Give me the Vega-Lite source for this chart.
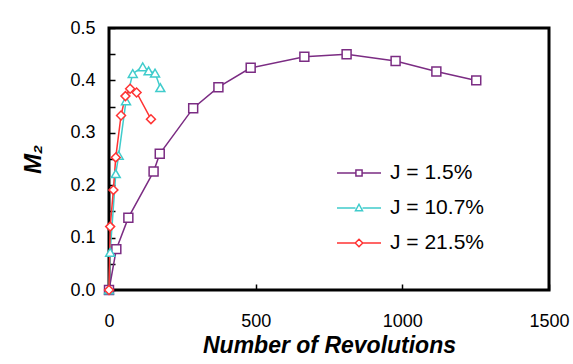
{
  "$schema": "https://vega.github.io/schema/vega-lite/v6.json",
  "autosize": "none",
  "width": 440,
  "height": 262,
  "padding": {"left": 109, "top": 28, "right": 24, "bottom": 74},
  "background": "white",
  "config": {
    "font": "Liberation Sans",
    "view": {"stroke": "black", "strokeWidth": 3},
    "axis": {"grid": false, "domain": false, "zindex": 1, "ticks": true, "labelColor": "black", "titleColor": "black", "tickColor": "black", "labelFont": "Liberation Sans", "titleFont": "Liberation Sans"}
  },
  "data": {"values": [
    {"J": "J = 1.5%", "rev": 0, "M2": 0.0},
    {"J": "J = 1.5%", "rev": 25, "M2": 0.078},
    {"J": "J = 1.5%", "rev": 66, "M2": 0.138},
    {"J": "J = 1.5%", "rev": 152, "M2": 0.226},
    {"J": "J = 1.5%", "rev": 173, "M2": 0.26},
    {"J": "J = 1.5%", "rev": 287, "M2": 0.347},
    {"J": "J = 1.5%", "rev": 373, "M2": 0.387},
    {"J": "J = 1.5%", "rev": 483, "M2": 0.424},
    {"J": "J = 1.5%", "rev": 666, "M2": 0.445},
    {"J": "J = 1.5%", "rev": 810, "M2": 0.45},
    {"J": "J = 1.5%", "rev": 977, "M2": 0.437},
    {"J": "J = 1.5%", "rev": 1116, "M2": 0.417},
    {"J": "J = 1.5%", "rev": 1252, "M2": 0.4},
    {"J": "J = 10.7%", "rev": 0, "M2": 0.0},
    {"J": "J = 10.7%", "rev": 4, "M2": 0.072},
    {"J": "J = 10.7%", "rev": 23, "M2": 0.222},
    {"J": "J = 10.7%", "rev": 33, "M2": 0.257},
    {"J": "J = 10.7%", "rev": 58, "M2": 0.361},
    {"J": "J = 10.7%", "rev": 81, "M2": 0.413},
    {"J": "J = 10.7%", "rev": 115, "M2": 0.426},
    {"J": "J = 10.7%", "rev": 135, "M2": 0.418},
    {"J": "J = 10.7%", "rev": 157, "M2": 0.414},
    {"J": "J = 10.7%", "rev": 175, "M2": 0.386},
    {"J": "J = 21.5%", "rev": 0, "M2": 0.0},
    {"J": "J = 21.5%", "rev": 4, "M2": 0.121},
    {"J": "J = 21.5%", "rev": 15, "M2": 0.191},
    {"J": "J = 21.5%", "rev": 23, "M2": 0.253},
    {"J": "J = 21.5%", "rev": 41, "M2": 0.333},
    {"J": "J = 21.5%", "rev": 56, "M2": 0.37},
    {"J": "J = 21.5%", "rev": 72, "M2": 0.384},
    {"J": "J = 21.5%", "rev": 94, "M2": 0.377},
    {"J": "J = 21.5%", "rev": 143, "M2": 0.326}
  ]},
  "encoding": {
    "x": {"field": "rev", "type": "quantitative",
      "scale": {"domain": [0, 1500], "nice": false, "zero": true},
      "axis": {"values": [0, 500, 1000, 1500], "format": "d", "tickSize": -6, "tickWidth": 1.5, "tickColor": "black", "tickOpacity": 1, "labelPadding": 28, "labelFontSize": 18, "title": "Number of Revolutions", "titleFontSize": 23, "titleFontWeight": "bold", "titleFontStyle": "italic", "titlePadding": 4, "labelFlush": false}},
    "y": {"field": "M2", "type": "quantitative",
      "scale": {"domain": [0, 0.5], "nice": false},
      "axis": {"values": [0, 0.05, 0.1, 0.15, 0.2, 0.25, 0.3, 0.35, 0.4, 0.45, 0.5], "labelExpr": "round(datum.value*20) % 2 == 0 ? format(datum.value, '.1f') : ''", "tickSize": -6, "tickWidth": 1.5, "tickColor": "black", "tickOpacity": 1, "labelPadding": 20, "labelFontSize": 18, "title": "M₂", "titleFontSize": 24, "titleFontWeight": "bold", "titleFontStyle": "italic", "titlePadding": 24}}
  },
  "layer": [
    {
      "mark": {"type": "line", "strokeWidth": 1.5, "clip": false},
      "encoding": {
        "color": {"field": "J", "type": "nominal", "legend": null,
          "scale": {"domain": ["J = 1.5%", "J = 10.7%", "J = 21.5%"], "range": ["#7B2C83", "#40CCCC", "#FF3333"]}},
        "order": {"field": "rev", "type": "quantitative"}
      }
    },
    {
      "mark": {"type": "point", "filled": false, "fill": "white", "fillOpacity": 1, "strokeWidth": 1.5, "size": 80, "opacity": 1, "clip": false},
      "encoding": {
        "stroke": {"field": "J", "type": "nominal", "legend": null,
          "scale": {"domain": ["J = 1.5%", "J = 10.7%", "J = 21.5%"], "range": ["#7B2C83", "#40CCCC", "#FF3333"]}},
        "shape": {"field": "J", "type": "nominal", "legend": null,
          "scale": {"domain": ["J = 1.5%", "J = 10.7%", "J = 21.5%"], "range": ["square", "triangle-up", "diamond"]}}
      }
    },
    {
      "mark": {"type": "point", "filled": false, "opacity": 0, "size": 1,
        "stroke": {"expr": "datum.value == 'J = 1.5%' ? '#7B2C83' : datum.value == 'J = 10.7%' ? '#40CCCC' : '#FF3333'"}},
      "encoding": {
        "shape": {"field": "J", "type": "nominal",
          "scale": {"domain": ["J = 1.5%", "J = 10.7%", "J = 21.5%"], "range": [
            "M-1,0H-0.14M0.14,0H1M-0.14,-0.14H0.14V0.14H-0.14Z",
            "M-1,0H-0.16M0.16,0H1M0,-0.17L0.16,0.12L-0.16,0.12Z",
            "M-1,0H-0.17M0.17,0H1M0,-0.17L0.17,0L0,0.17L-0.17,0Z"
          ]},
          "legend": {
            "title": null, "orient": "none", "legendX": 227, "legendY": 122,
            "symbolSize": 1936, "symbolStrokeWidth": 1.5, "symbolOpacity": 1, "symbolFillColor": "white",
            "labelFontSize": 21, "labelFont": "Liberation Sans", "labelColor": "black", "labelOffset": 8,
            "rowPadding": 2, "labelLimit": 300
          }
        }
      }
    }
  ],
  "resolve": {"scale": {"shape": "independent"}, "legend": {"shape": "independent"}}
}
